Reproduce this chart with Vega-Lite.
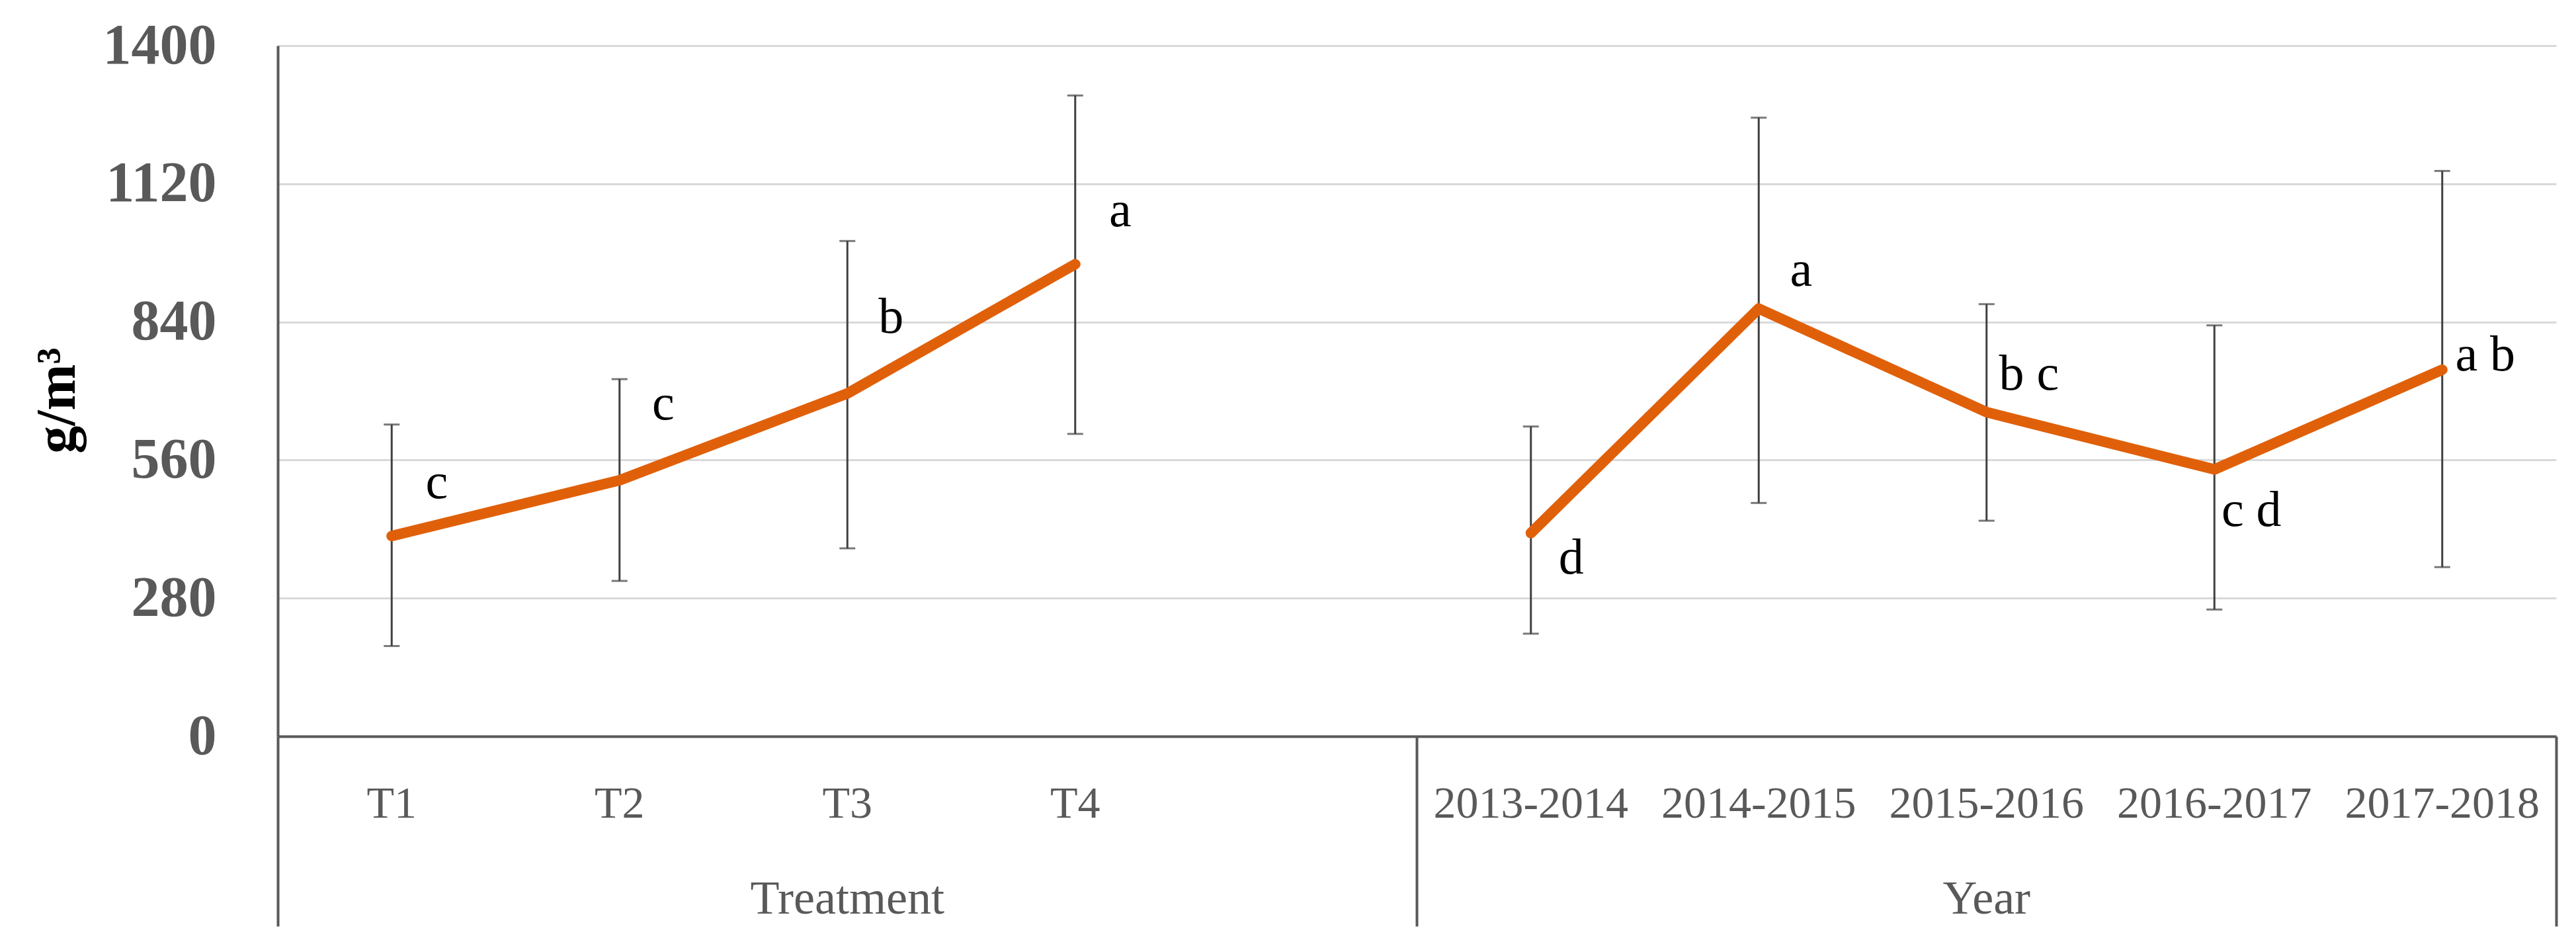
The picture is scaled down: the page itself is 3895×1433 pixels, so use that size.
{
  "$schema": "https://vega.github.io/schema/vega-lite/v6.json",
  "width": 3445,
  "height": 1044,
  "autosize": {"type": "none"},
  "padding": {"left": 420, "top": 69, "right": 30, "bottom": 320},
  "background": "white",
  "config": {
    "view": {"stroke": null},
    "axis": {"labelLimit": 0}
  },
  "data": {
    "values": [
      {"cat": "T1", "group": "Treatment", "mean": 406, "lower": 183, "upper": 632, "letter": "c"},
      {"cat": "T2", "group": "Treatment", "mean": 519, "lower": 315, "upper": 724, "letter": "c"},
      {"cat": "T3", "group": "Treatment", "mean": 695, "lower": 381, "upper": 1004, "letter": "b"},
      {"cat": "T4", "group": "Treatment", "mean": 957, "lower": 613, "upper": 1299, "letter": "a"},
      {"cat": "2013-2014", "group": "Year", "mean": 412, "lower": 208, "upper": 628, "letter": "d"},
      {"cat": "2014-2015", "group": "Year", "mean": 867, "lower": 473, "upper": 1254, "letter": "a"},
      {"cat": "2015-2016", "group": "Year", "mean": 657, "lower": 437, "upper": 876, "letter": "b c"},
      {"cat": "2016-2017", "group": "Year", "mean": 541, "lower": 257, "upper": 833, "letter": "c d"},
      {"cat": "2017-2018", "group": "Year", "mean": 743, "lower": 343, "upper": 1146, "letter": "a b"}
    ]
  },
  "resolve": {"scale": {"x": "shared", "y": "shared"}, "axis": {"x": "independent", "y": "shared"}},
  "layer": [
    {
      "mark": {"type": "rule", "color": "#404040", "strokeWidth": 3},
      "encoding": {
        "x": {"field": "cat", "type": "nominal",
          "scale": {"domain": ["T1", "T2", "T3", "T4", " ", "2013-2014", "2014-2015", "2015-2016", "2016-2017", "2017-2018"], "paddingInner": 0, "paddingOuter": 0},
          "axis": {"orient": "bottom", "title": null, "domain": true, "domainColor": "#595959", "domainWidth": 4,
            "ticks": false, "tickSize": 0, "grid": false, "labelAngle": 0, "labelLimit": 0,
            "labelFont": "Liberation Serif", "labelFontSize": 68, "labelColor": "#595959",
            "labelBaseline": "alphabetic", "labelPadding": 122}},
        "y": {"field": "lower", "type": "quantitative", "title": "g/m³",
          "scale": {"domain": [0, 1400], "nice": false},
          "axis": {"domain": true, "domainColor": "#595959", "domainWidth": 4,
            "ticks": false, "tickSize": 0,
            "grid": true, "gridColor": "#d9d9d9", "gridWidth": 3,
            "values": [0, 280, 560, 840, 1120, 1400], "format": "d", "labelLimit": 0,
            "labelFont": "Liberation Serif", "labelFontWeight": "bold", "labelFontSize": 86, "labelColor": "#595959",
            "labelPadding": 93,
            "titleFont": "Liberation Serif", "titleFontWeight": "bold", "titleFontSize": 84, "titleColor": "#000000",
            "titlePadding": 90, "titleY": 536}},
        "y2": {"field": "upper"}
      }
    },
    {
      "mark": {"type": "tick", "color": "#404040", "size": 24, "thickness": 3},
      "encoding": {
        "x": {"field": "cat", "type": "nominal",
          "scale": {"domain": ["T1", "T2", "T3", "T4", " ", "2013-2014", "2014-2015", "2015-2016", "2016-2017", "2017-2018"], "paddingInner": 0, "paddingOuter": 0},
          "axis": {"orient": "bottom", "title": null, "domain": false, "labels": false, "grid": false,
            "ticks": true, "values": ["T1", "2013-2014"], "bandPosition": 0,
            "tickSize": 287, "tickColor": "#595959", "tickWidth": 4}},
        "y": {"field": "upper", "type": "quantitative", "title": "g/m³"}
      }
    },
    {
      "mark": {"type": "tick", "color": "#404040", "size": 24, "thickness": 3},
      "encoding": {
        "x": {"field": "cat", "type": "nominal",
          "scale": {"domain": ["T1", "T2", "T3", "T4", " ", "2013-2014", "2014-2015", "2015-2016", "2016-2017", "2017-2018"], "paddingInner": 0, "paddingOuter": 0},
          "axis": {"orient": "bottom", "title": null, "domain": false, "labels": false, "grid": false,
            "ticks": true, "values": ["2017-2018"], "bandPosition": 1,
            "tickSize": 287, "tickColor": "#595959", "tickWidth": 4}},
        "y": {"field": "lower", "type": "quantitative", "title": "g/m³"}
      }
    },
    {
      "mark": {"type": "line", "color": "#E0600A", "strokeWidth": 16, "strokeCap": "round", "strokeJoin": "round"},
      "encoding": {
        "x": {"field": "cat", "type": "nominal",
          "scale": {"domain": ["T1", "T2", "T3", "T4", " ", "2013-2014", "2014-2015", "2015-2016", "2016-2017", "2017-2018"], "paddingInner": 0, "paddingOuter": 0},
          "axis": {"orient": "bottom", "title": null, "domain": false, "ticks": false, "tickSize": 0, "grid": false,
            "values": ["T3", "2015-2016"], "labelExpr": "datum.value === 'T3' ? 'Treatment' : 'Year'",
            "labelAngle": 0, "labelLimit": 0, "labelFont": "Liberation Serif", "labelFontSize": 72, "labelColor": "#595959",
            "labelBaseline": "alphabetic", "labelPadding": 267}},
        "y": {"field": "mean", "type": "quantitative", "title": "g/m³"},
        "detail": {"field": "group"}
      }
    },
    {
      "transform": [{"filter": "datum.cat === 'T1' || datum.cat === 'T4'"}],
      "mark": {"type": "text", "font": "Liberation Serif", "fontSize": 76, "color": "#000000", "align": "center", "baseline": "middle", "dx": 68, "dy": -80},
      "encoding": {
        "x": {"field": "cat", "type": "nominal", "axis": null},
        "y": {"field": "mean", "type": "quantitative", "title": "g/m³"},
        "text": {"field": "letter"}
      }
    },
    {
      "transform": [{"filter": "datum.cat === 'T2' || datum.cat === 'T3'"}],
      "mark": {"type": "text", "font": "Liberation Serif", "fontSize": 76, "color": "#000000", "align": "center", "baseline": "middle", "dx": 66, "dy": -115},
      "encoding": {
        "x": {"field": "cat", "type": "nominal", "axis": null},
        "y": {"field": "mean", "type": "quantitative", "title": "g/m³"},
        "text": {"field": "letter"}
      }
    },
    {
      "transform": [{"filter": "datum.cat === '2014-2015' || datum.cat === '2015-2016'"}],
      "mark": {"type": "text", "font": "Liberation Serif", "fontSize": 76, "color": "#000000", "align": "center", "baseline": "middle", "dx": 64, "dy": -57},
      "encoding": {
        "x": {"field": "cat", "type": "nominal", "axis": null},
        "y": {"field": "mean", "type": "quantitative", "title": "g/m³"},
        "text": {"field": "letter"}
      }
    },
    {
      "transform": [{"filter": "datum.cat === '2017-2018'"}],
      "mark": {"type": "text", "font": "Liberation Serif", "fontSize": 76, "color": "#000000", "align": "center", "baseline": "middle", "dx": 65, "dy": -22},
      "encoding": {
        "x": {"field": "cat", "type": "nominal", "axis": null},
        "y": {"field": "mean", "type": "quantitative", "title": "g/m³"},
        "text": {"field": "letter"}
      }
    },
    {
      "transform": [{"filter": "datum.cat === '2013-2014'"}],
      "mark": {"type": "text", "font": "Liberation Serif", "fontSize": 76, "color": "#000000", "align": "center", "baseline": "middle", "dx": 61, "dy": 38},
      "encoding": {
        "x": {"field": "cat", "type": "nominal", "axis": null},
        "y": {"field": "mean", "type": "quantitative", "title": "g/m³"},
        "text": {"field": "letter"}
      }
    },
    {
      "transform": [{"filter": "datum.cat === '2016-2017'"}],
      "mark": {"type": "text", "font": "Liberation Serif", "fontSize": 76, "color": "#000000", "align": "center", "baseline": "middle", "dx": 56, "dy": 62},
      "encoding": {
        "x": {"field": "cat", "type": "nominal", "axis": null},
        "y": {"field": "mean", "type": "quantitative", "title": "g/m³"},
        "text": {"field": "letter"}
      }
    }
  ]
}
